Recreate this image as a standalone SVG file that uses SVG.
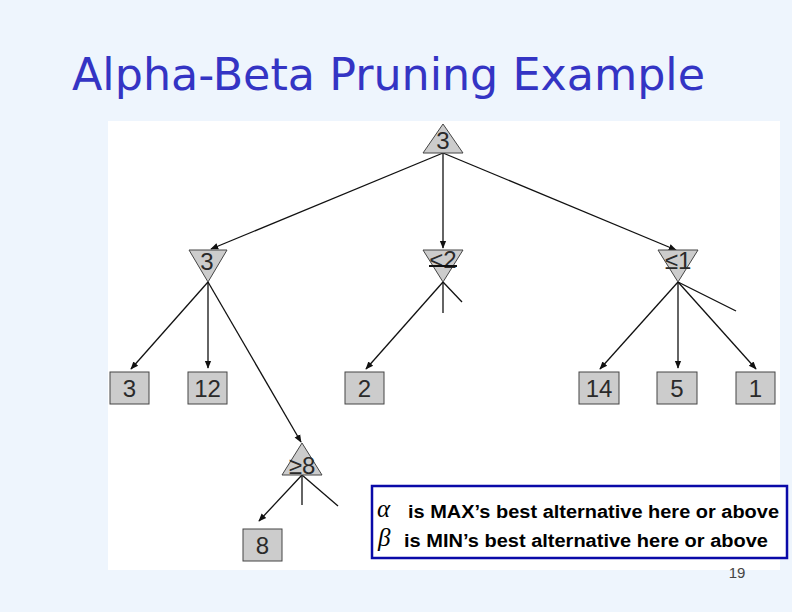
<svg xmlns="http://www.w3.org/2000/svg" width="792" height="612" viewBox="0 0 792 612">
<defs>
<marker id="ah" viewBox="0 0 10 10" refX="9" refY="5" markerWidth="8" markerHeight="8" markerUnits="userSpaceOnUse" orient="auto">
<path d="M0,1 L10,5 L0,9 Z" fill="#111"/>
</marker>
<style>
.tri{fill:#cccccc;stroke:#444;stroke-width:1}
.box{fill:#cccccc;stroke:#444;stroke-width:1}
.lbl{font-family:"Liberation Sans",Arial,sans-serif;font-size:24px;fill:#2a2a2a;text-anchor:middle}
.edge{stroke:#111;stroke-width:1.3;fill:none}
.arr{marker-end:url(#ah)}
.leg{font-family:"Liberation Sans",Arial,sans-serif;font-size:17.5px;font-weight:bold;fill:#000}
.greek{font-family:"Liberation Serif","Times New Roman",serif;font-style:italic;font-size:25px;fill:#000}
</style>
</defs>
<rect x="0" y="0" width="792" height="612" fill="#eef5fd"/>
<text x="72" y="90" font-family="'Comic Sans MS','DejaVu Sans',sans-serif" font-size="45" fill="#3434c4" textLength="633" lengthAdjust="spacingAndGlyphs">Alpha-Beta Pruning Example</text>
<rect x="108" y="121" width="672" height="449" fill="#ffffff"/>

<g id="connectors">
<line class="edge arr" x1="443" y1="153" x2="211" y2="249"/>
<line class="edge arr" x1="443" y1="153" x2="443" y2="248"/>
<line class="edge arr" x1="443" y1="153" x2="676" y2="250"/>
<line class="edge arr" x1="208" y1="282" x2="131" y2="369"/>
<line class="edge arr" x1="208" y1="282" x2="208" y2="368"/>
<line class="edge arr" x1="208" y1="282" x2="301" y2="442"/>
<line class="edge arr" x1="302" y1="475" x2="259" y2="521"/>
<line class="edge" x1="302" y1="475" x2="302" y2="505"/>
<line class="edge" x1="302" y1="475" x2="338" y2="506"/>
<line class="edge arr" x1="443" y1="282" x2="366" y2="369"/>
<line class="edge" x1="443" y1="282" x2="443" y2="313"/>
<line class="edge" x1="443" y1="282" x2="462" y2="302"/>
<line class="edge arr" x1="678" y1="282" x2="600" y2="369"/>
<line class="edge arr" x1="678" y1="282" x2="678" y2="368"/>
<line class="edge arr" x1="678" y1="282" x2="756" y2="369"/>
<line class="edge" x1="678" y1="282" x2="736" y2="311"/>
</g>

<g id="root"><polygon class="tri" points="443,124 463,153 423,153"/><text class="lbl" x="443" y="149" font-size="22">3</text></g>
<g id="min-left"><polygon class="tri" points="189,250 227,250 208,282"/><text class="lbl" x="207" y="270">3</text></g>
<g id="min-mid"><polygon class="tri" points="423,250 463,250 443,282"/><text class="lbl" x="443" y="268">&lt;2</text><line x1="429" y1="266" x2="457" y2="266" stroke="#111" stroke-width="2"/></g>
<g id="min-right"><polygon class="tri" points="658,250 698,250 678,282"/><text class="lbl" x="678" y="269">≤1</text></g>
<g id="max-8"><polygon class="tri" points="302,443 322,475 282,475"/><text class="lbl" x="302" y="474">≥8</text></g>

<g id="leaf-3"><rect class="box" x="110" y="372" width="39" height="32"/><text class="lbl" x="129.5" y="397">3</text></g>
<g id="leaf-12"><rect class="box" x="188" y="372" width="39" height="32"/><text class="lbl" x="207.5" y="397">12</text></g>
<g id="leaf-2"><rect class="box" x="345" y="372" width="39" height="32"/><text class="lbl" x="364.5" y="397">2</text></g>
<g id="leaf-14"><rect class="box" x="579" y="372" width="40" height="32"/><text class="lbl" x="599" y="397">14</text></g>
<g id="leaf-5"><rect class="box" x="657" y="372" width="40" height="32"/><text class="lbl" x="677" y="397">5</text></g>
<g id="leaf-1"><rect class="box" x="736" y="372" width="39" height="32"/><text class="lbl" x="755.5" y="397">1</text></g>
<g id="leaf-8"><rect class="box" x="243" y="529" width="39" height="32"/><text class="lbl" x="262.5" y="554">8</text></g>

<g id="legend">
<rect x="372" y="486" width="415" height="72" fill="#ffffff" stroke="#0a0aa8" stroke-width="2.5"/>
<text class="greek" x="377" y="517">α</text>
<text class="leg" x="408" y="518" textLength="371" lengthAdjust="spacingAndGlyphs">is MAX’s best alternative here or above</text>
<text class="greek" x="378" y="546">β</text>
<text class="leg" x="404" y="547" textLength="364" lengthAdjust="spacingAndGlyphs">is MIN’s best alternative here or above</text>
</g>
<text x="737" y="578" font-family="'Liberation Sans',Arial,sans-serif" font-size="15" fill="#444" text-anchor="middle">19</text>
</svg>
